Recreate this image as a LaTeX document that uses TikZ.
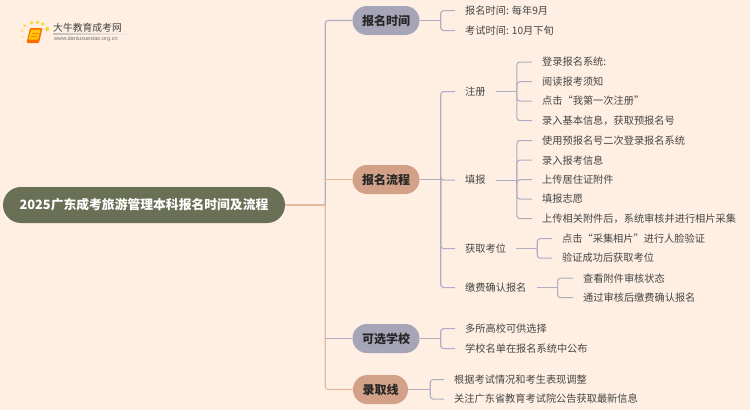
\documentclass[tikz,border=0pt]{standalone}
\usepackage{fontspec}
\setmainfont{Noto Sans CJK SC}
\newfontfamily\latinf{Liberation Sans}
\definecolor{bgc}{HTML}{FFEFE2}
\definecolor{grayl}{HTML}{AEADC3}
\definecolor{orangel}{HTML}{E3B9A0}
\definecolor{grayp}{HTML}{A6A5B7}
\definecolor{orangep}{HTML}{D2A187}
\definecolor{rootc}{HTML}{697056}
\definecolor{txt}{HTML}{454545}
\tikzset{
  rootnode/.style={fill=rootc,text=white,rounded corners=17.9pt,minimum height=36pt,minimum width=282pt,inner sep=0pt,font=\fontsize{12.8pt}{15pt}\selectfont\bfseries},
  grayn/.style={fill=grayp,text=black!85,rounded corners=14.4pt,minimum height=29pt,inner sep=0pt,font=\fontsize{12pt}{14pt}\selectfont\bfseries},
  orangen/.style={grayn,fill=orangep},
  item/.style={anchor=west,inner xsep=10pt,inner ysep=1pt,yshift=-0.6pt,text=txt,font=\fontsize{10.2pt}{12pt}\selectfont},
  grayc/.style={draw=grayl,line width=1.1pt},
  orangec/.style={draw=orangel,line width=1.1pt},
  corner/.style={rounded corners=3pt},
}
% \branchto{colour style}{parent}{distance}{child}
\newcommand{\branchto}[4]{%
  \draw[#1] (#2.east) -- ++(#3,0) coordinate (tmpf);
  \draw[#1,corner] (tmpf) |- (#4.west);
}
\begin{document}
\begin{tikzpicture}[x=1pt,y=-1pt]
\useasboundingbox (0,0) rectangle (750,410);
\fill[bgc] (0,0) rectangle (750,410);

% logo
\foreach \a/\b/\r in {23.3/42.3/0.6,22.7/36.7/0.8,22.3/30.7/1.1,25/25.7/1.4,31.7/22.7/1.8,37.7/22.3/1.9,42.7/24/1.9,47.3/29/2.1}
  \fill[yellow!70!orange,opacity=.8] (\a,\b) circle (\r);
\fill[orange!85!red,rounded corners=1pt] (30,28) -- (42.5,28) -- (39,43) -- (26.5,43) -- cycle;
\fill[yellow!60!orange] (31,29.5) -- (40.5,29.5) -- (38,39.5) -- (28.5,39.5) -- cycle;
\draw[orange,line width=.6pt] (32,33) -- (37.5,33) (31,36) -- (36.5,36);
\node[anchor=west,inner sep=0pt,text=black!75,font=\fontsize{9.8pt}{11pt}\selectfont] (logotitle) at (53,27.5) {大牛教育成考网};
\node[anchor=west,inner sep=0pt,text=black!55,font=\latinf\fontsize{5.6pt}{7pt}\selectfont] (logourl) at (54,39) {www.daniuxuexiao.org.cn};
\shade[left color=black!25,right color=bgc] (53,33.6) rectangle (133,34.2);

% main nodes
\node[rootnode] (root) at (144,205) {2025广东成考旅游管理本科报名时间及流程};
\node[grayn,minimum width=67pt] (a) at (386,20.5) {报名时间};
\node[orangen,minimum width=67pt] (b) at (386,179.5) {报名流程};
\node[grayn,minimum width=67pt] (c) at (386,338.5) {可选学校};
\node[orangen,minimum width=55pt] (d) at (380.5,389.5) {录取线};

% level 2
\node[item] (a1) at (455,10) {报名时间: 每年9月};
\node[item] (a2) at (455,30) {考试时间: 10月下旬};

\node[item] (b1) at (455,91) {注册};
\node[item] (b2) at (455,179.5) {填报};
\node[item] (b3) at (455,248) {获取考位};
\node[item] (b4) at (455,287) {缴费确认报名};

\node[item] (b11) at (532,61.5) {登录报名系统:};
\node[item] (b12) at (532,81) {阅读报考须知};
\node[item] (b13) at (532,100.5) {点击“我第一次注册”};
\node[item] (b14) at (532,120) {录入基本信息，获取预报名号};

\node[item] (b21) at (532,140) {使用预报名号二次登录报名系统};
\node[item] (b22) at (532,159.5) {录入报考信息};
\node[item] (b23) at (532,179) {上传居住证附件};
\node[item] (b24) at (532,198.5) {填报志愿};
\node[item] (b25) at (532,218) {上传相关附件后，系统审核并进行相片采集};

\node[item] (b31) at (552,238) {点击“采集相片”进行人脸验证};
\node[item] (b32) at (552,257.5) {验证成功后获取考位};

\node[item] (b41) at (573,277.5) {查看附件审核状态};
\node[item] (b42) at (573,297) {通过审核后缴费确认报名};

\node[item] (c1) at (455,328) {多所高校可供选择};
\node[item] (c2) at (455,348) {学校名单在报名系统中公布};

\node[item] (d1) at (444,379) {根据考试情况和考生表现调整};
\node[item] (d2) at (444,398.5) {关注广东省教育考试院公告获取最新信息};

% trunk
\draw[orangec] (root.east) -- ++(40,0) coordinate (trunk);
\draw[grayc,corner] (trunk) |- (a.west);
\draw[orangec,corner] (trunk) |- (d.west);
\draw[orangec] (trunk |- b.west) -- (b.west);
\draw[grayc] (trunk |- c.west) -- (c.west);

% forks
\branchto{grayc}{a}{21}{a1}
\branchto{grayc}{a}{21}{a2}
\foreach \k in {b1,b2,b3,b4}{\branchto{grayc}{b}{21}{\k}}
\foreach \k in {b11,b12,b13,b14}{\branchto{grayc}{b1}{21}{\k}}
\foreach \k in {b21,b22,b23,b24,b25}{\branchto{grayc}{b2}{21}{\k}}
\foreach \k in {b31,b32}{\branchto{grayc}{b3}{21}{\k}}
\foreach \k in {b41,b42}{\branchto{grayc}{b4}{21}{\k}}
\branchto{grayc}{c}{21}{c1}
\branchto{grayc}{c}{21}{c2}
\branchto{grayc}{d}{22}{d1}
\branchto{grayc}{d}{22}{d2}
\end{tikzpicture}
\end{document}
